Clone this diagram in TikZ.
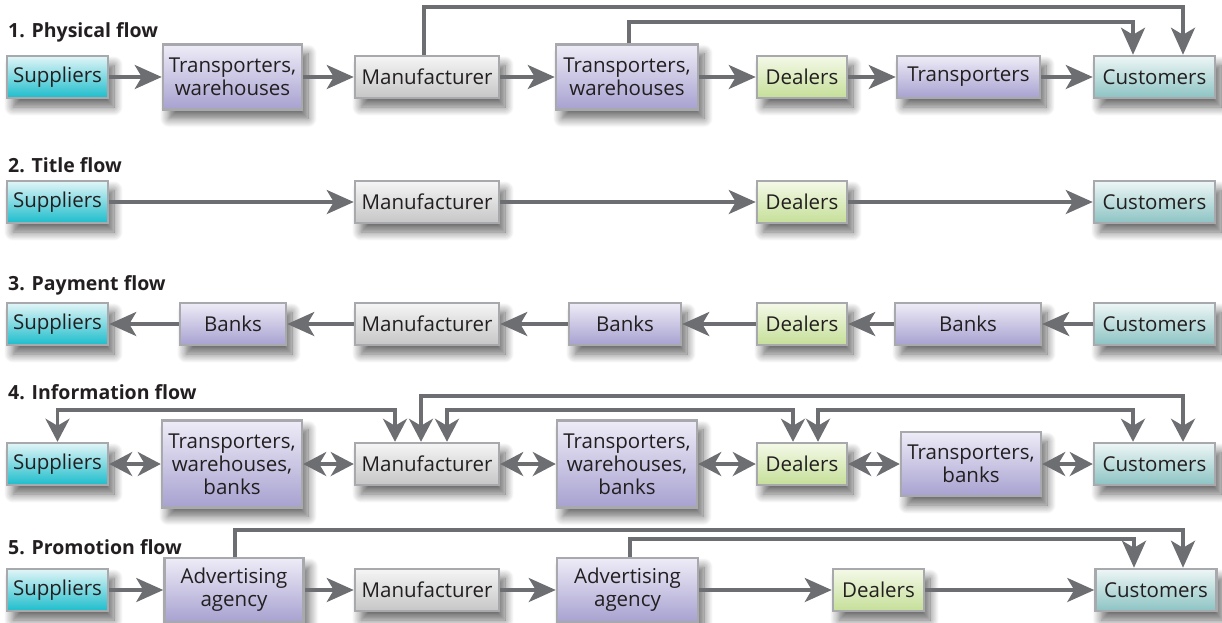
\documentclass[tikz,border=0pt]{standalone}
\usepackage{fontspec}
\setmainfont{Open Sans}
\usetikzlibrary{arrows.meta,shadows.blur}

\definecolor{arr}{HTML}{6D6E71}
\definecolor{edge}{HTML}{A7A9AC}
\definecolor{ink}{HTML}{231F20}
\definecolor{supT}{HTML}{E2F5F7}
\definecolor{supB}{HTML}{1CBDCC}
\definecolor{midT}{HTML}{EEECF7}
\definecolor{midB}{HTML}{A7A1D0}
\definecolor{mfrT}{HTML}{F5F5F5}
\definecolor{mfrB}{HTML}{C6C6C6}
\definecolor{dlrT}{HTML}{F4F9E8}
\definecolor{dlrB}{HTML}{C5DF98}
\definecolor{cstT}{HTML}{EEF6F6}
\definecolor{cstB}{HTML}{8CC3C3}

\tikzset{
  box/.style={draw=edge, line width=2.5pt, inner sep=0pt, align=center, text=ink,
    font=\fontsize{20.5}{23}\selectfont, minimum height=42pt,
    blur shadow={shadow xshift=6pt, shadow yshift=-9pt, shadow blur radius=9pt,
      shadow blur steps=12, shadow opacity=60}},
  sup/.style={box, top color=supT, bottom color=supB, minimum width=101pt},
  mfr/.style={box, top color=mfrT, bottom color=mfrB, minimum width=144pt},
  dlr/.style={box, top color=dlrT, bottom color=dlrB, minimum width=90pt},
  cst/.style={box, top color=cstT, bottom color=cstB, minimum width=121pt},
  mid/.style={box, top color=midT, bottom color=midB},
  flow/.style={draw=arr, line width=3.5pt, -{Stealth[length=27pt,width=24pt,inset=7pt]}},
  both/.style={draw=arr, line width=3.5pt,
    {Stealth[length=23pt,width=24pt,inset=7pt]}-{Stealth[length=23pt,width=24pt,inset=7pt]}},
  rowlabel/.style={anchor=west, inner sep=0pt, text=ink,
    font=\fontsize{19.5}{21}\selectfont\bfseries}
}

\begin{document}
\begin{tikzpicture}[x=1pt,y=-1pt]
\useasboundingbox (0,0) rectangle (1222,622);
% 1. physical flow
\node[rowlabel] (l1) at (8,32) {1. Physical flow};
\node[sup] (s1) at (57.5,77) {Suppliers};
\node[mid,minimum width=139pt,minimum height=65pt] (tw1) at (232.5,77) {Transporters,\\warehouses};
\node[mfr] (m1) at (427,77) {Manufacturer};
\node[mid,minimum width=142pt,minimum height=65pt] (tw2) at (627,77) {Transporters,\\warehouses};
\node[dlr] (d1) at (802,77) {Dealers};
\node[mid,minimum width=143pt] (t1) at (968.5,77) {Transporters};
\node[cst] (c1) at (1154.5,77) {Customers};
\foreach \a/\b in {s1/tw1,tw1/m1,m1/tw2,tw2/d1,d1/t1,t1/c1}{
  \draw[flow] (\a) -- (\b);
}
\draw[flow] ([xshift=-3pt]m1.north) -- ++(0,-48) -| ([xshift=28.5pt]c1.north);
\draw[flow] ([xshift=2pt]tw2.north) -- ++(0,-21.5) -| ([xshift=-21.5pt]c1.north);
% 2. title flow
\node[rowlabel] (l2) at (8,165) {2. Title flow};
\node[sup] (s2) at (57.5,202) {Suppliers};
\node[mfr] (m2) at (427,202) {Manufacturer};
\node[dlr] (d2) at (802,202) {Dealers};
\node[cst] (c2) at (1154.5,202) {Customers};
\foreach \a/\b in {s2/m2,m2/d2,d2/c2}{
  \draw[flow] (\a) -- (\b);
}
% 3. payment flow
\node[rowlabel] (l3) at (8,285) {3. Payment flow};
\node[sup] (s3) at (57.5,324) {Suppliers};
\node[mid,minimum width=106pt] (b31) at (233,324) {Banks};
\node[mfr] (m3) at (427,324) {Manufacturer};
\node[mid,minimum width=112pt] (b32) at (625,324) {Banks};
\node[dlr] (d3) at (802,324) {Dealers};
\node[mid,minimum width=146pt] (b33) at (968,324) {Banks};
\node[cst] (c3) at (1154.5,324) {Customers};
\foreach \a/\b in {c3/b33,b33/d3,d3/b32,b32/m3,m3/b31,b31/s3}{
  \draw[flow] (\a) -- (\b);
}
% 4. information flow
\node[rowlabel] (l4) at (8,392) {4. Information flow};
\node[sup] (s4) at (57.5,464) {Suppliers};
\node[mid,minimum width=140pt,minimum height=87pt] (tw4a) at (232,464) {Transporters,\\warehouses,\\banks};
\node[mfr] (m4) at (427,464) {Manufacturer};
\node[mid,minimum width=140pt,minimum height=87pt] (tw4b) at (627,464) {Transporters,\\warehouses,\\banks};
\node[dlr] (d4) at (802,464) {Dealers};
\node[mid,minimum width=140pt,minimum height=64pt] (tb4) at (971,464) {Transporters,\\banks};
\node[cst] (c4) at (1154.5,464) {Customers};
\foreach \a/\b in {s4/tw4a,tw4a/m4,m4/tw4b,tw4b/d4,d4/tb4,tb4/c4}{
  \draw[both] (\a) -- (\b);
}
\draw[both] (s4.north) -- ++(0,-32) -| ([xshift=-32pt]m4.north);
\draw[both] ([xshift=-6pt]m4.north) -- ++(0,-46) -| ([xshift=28.5pt]c4.north);
\draw[both] ([xshift=20pt]m4.north) -- ++(0,-32) -| ([xshift=-9pt]d4.north);
\draw[both] ([xshift=16pt]d4.north) -- ++(0,-32) -| ([xshift=-21.5pt]c4.north);
% 5. promotion flow
\node[rowlabel] (l5) at (8,547) {5. Promotion flow};
\node[sup] (s5) at (57.5,590) {Suppliers};
\node[mid,minimum width=139pt,minimum height=64pt] (aa1) at (234,590) {Advertising\\agency};
\node[mfr] (m5) at (427,590) {Manufacturer};
\node[mid,minimum width=141pt,minimum height=64pt] (aa2) at (627.5,590) {Advertising\\agency};
\node[dlr,minimum width=91pt] (d5) at (878.5,590) {Dealers};
\node[cst] (c5) at (1156,590) {Customers};
\foreach \a/\b in {s5/aa1,aa1/m5,m5/aa2,aa2/d5,d5/c5}{
  \draw[flow] (\a) -- (\b);
}
\draw[flow] ([xshift=1pt]aa1.north) -- ++(0,-27) -| ([xshift=27pt]c5.north);
\draw[flow] ([xshift=2.5pt]aa2.north) -- ++(0,-18) -| ([xshift=-22pt]c5.north);
\end{tikzpicture}
\end{document}
